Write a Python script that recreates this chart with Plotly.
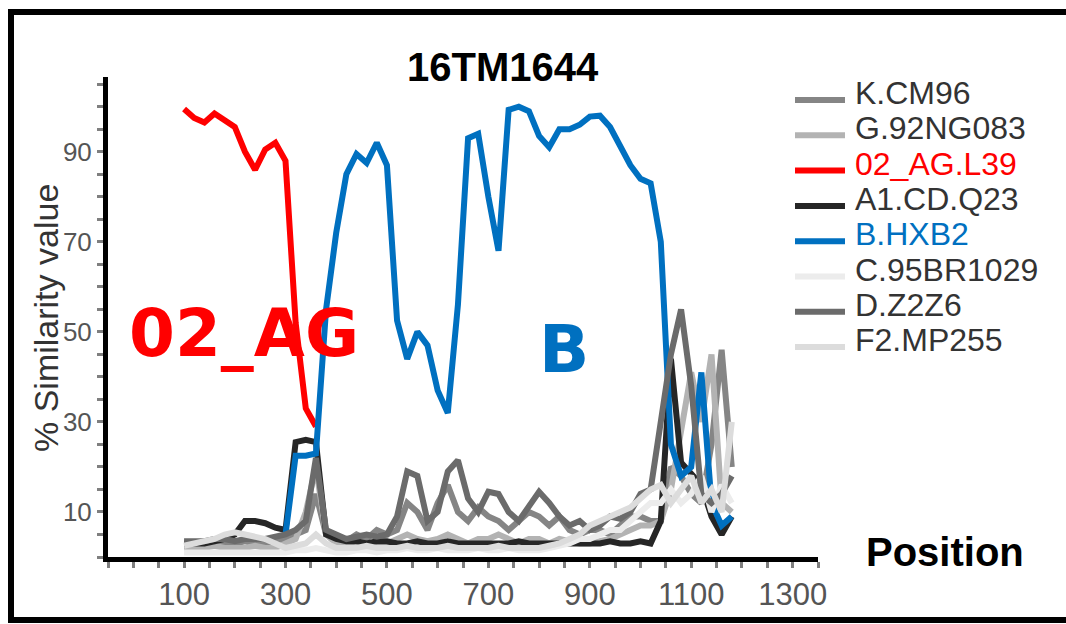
import plotly.graph_objects as go

# Window mid-point positions along the query (bp)
positions = [100, 120, 140, 160, 180, 200, 220, 240, 260, 280,
             300, 320, 340, 360, 380, 400, 420, 440, 460, 480,
             500, 520, 540, 560, 580, 600, 620, 640, 660, 680,
             700, 720, 740, 760, 780, 800, 820, 840, 860, 880,
             900, 920, 940, 960, 980, 1000, 1020, 1040, 1060, 1080,
             1100, 1120, 1140, 1160, 1180]

# % similarity of query 16TM1644 to each reference
sim_K = [2.5, 2.5, 3, 2.5, 3, 3, 3.5, 3, 3, 3.5,
         4, 5, 6, 14, 5, 4, 3.5, 5, 4, 6,
         5, 6, 12, 10, 6, 12, 16, 10, 8, 11,
         9, 8, 6, 8, 10, 9, 7, 9, 6, 5,
         6, 6, 5, 7, 9, 9, 8, 8, 20, 18,
         14, 12, 25, 46, 20]
sim_G = [2, 2, 2, 2.5, 2, 2, 2, 2.5, 2, 2,
         3, 4, 10, 20, 5, 3, 3, 3.5, 3, 3,
         3, 4, 5, 4, 3.5, 4, 5, 4, 3, 4,
         4, 5, 4, 3, 4, 4, 3, 4, 3.5, 3,
         3, 3.5, 4, 5, 6, 7, 7, 8, 15, 28,
         41, 30, 45, 12, 10]
sim_02AG = [99.5, 97.5, 96.5, 98.5, 97, 95.5, 90, 86, 90.5, 92,
            88, 52, 33, 29]
sim_A1 = [3, 3, 3, 3.5, 4, 5, 8, 8, 7.5, 6.5,
          6, 25.5, 26, 25.5, 5, 4, 3.5, 3.5, 3, 3.5,
          3.5, 3, 3, 3.5, 3, 3, 3.5, 3, 3, 3,
          3, 3, 3, 3.5, 3, 3, 3, 3, 3, 3,
          3, 3, 3.5, 3, 3, 3.5, 3, 8, 44, 21,
          18.5, 16, 9, 5, 9]
sim_B = [5, 22.5, 22.5, 23, 55, 72, 85, 89.5, 87.5, 92,
         87, 52.5, 44, 50, 47, 37, 32, 56, 93, 94,
         80, 68, 99.3, 100, 99, 93.5, 91, 95, 95, 96,
         97.8, 98, 95.5, 91.5, 87, 84, 83, 70, 25, 18,
         20, 41, 12, 7, 9]
sim_C = [1, 1, 1, 1, 1, 1, 1, 1, 1, 1,
         1, 1.5, 1.5, 2, 1.5, 1, 1, 1.5, 1.5, 1,
         1.5, 1.5, 2, 1.5, 1.5, 2, 1.5, 1.5, 1.5, 2,
         1.5, 1.5, 2, 1.5, 1.5, 1.5, 2, 2.5, 3, 4,
         4, 5, 6, 6, 8, 10, 12, 12, 15, 12,
         14, 18, 10, 16, 12]
sim_D = [3.5, 3.5, 3.5, 4, 4, 3.5, 4, 4, 4, 4.5,
         5, 6, 8, 22, 6, 5, 4, 4.5, 5, 4.5,
         5, 9, 19, 18, 8, 10, 19, 21.5, 13, 10,
         14.5, 14, 10, 8, 11, 14.5, 12, 9, 7, 8,
         6, 7, 9, 8.5, 10, 14, 15, 30, 45, 55,
         38, 14, 12, 14, 18]
sim_F2 = [2.5, 3, 3.5, 4, 5, 5.5, 5, 4.5, 4, 3,
          2, 2.5, 3, 5, 3, 2, 2, 2, 2.5, 2,
          2, 2, 2.5, 2, 2, 2, 2.5, 2, 2, 2,
          2, 2.5, 2, 2, 2, 2, 2.5, 3, 4, 5,
          7, 8, 9, 10, 11, 13, 15, 16, 12, 15,
          18, 12, 15, 10, 30]

pos_02AG = positions[:len(sim_02AG)]
pos_B = positions[len(positions) - len(sim_B):]

# name, x, y, line colour, legend text colour
series = [
    ("K.CM96", positions, sim_K, "#858585", "#333333"),
    ("G.92NG083", positions, sim_G, "#b3b3b3", "#333333"),
    ("02_AG.L39", pos_02AG, sim_02AG, "#ff0000", "#ff0000"),
    ("A1.CD.Q23", positions, sim_A1, "#262626", "#333333"),
    ("B.HXB2", pos_B, sim_B, "#0070c0", "#0070c0"),
    ("C.95BR1029", positions, sim_C, "#ececec", "#333333"),
    ("D.Z2Z6", positions, sim_D, "#6b6b6b", "#333333"),
    ("F2.MP255", positions, sim_F2, "#dcdcdc", "#333333"),
]

x_ticks = [100, 300, 500, 700, 900, 1100, 1300]
y_ticks = [10, 30, 50, 70, 90]

W, H = 1066, 624
ML, MR, MT, MB = 108, 248, 77, 67
PW, PH = W - ML - MR, H - MT - MB


def fx(px):
    return (px - ML) / PW


def fy(py):
    return (H - MB - py) / PH


FONT = "Liberation Sans, Arial, sans-serif"

fig = go.Figure()
for name, xs, ys, col, _ in series:
    fig.add_trace(go.Scatter(x=xs, y=ys, mode="lines", name=name,
                             line=dict(color=col, width=6),
                             showlegend=False, hoverinfo="skip"))

annotations = [
    dict(text="<b>16TM1644</b>", x=fx(503), y=fy(67), font=dict(size=40, color="#000000", family=FONT)),
    dict(text="% Similarity value", x=fx(46), y=fy(318), textangle=-90,
         font=dict(size=34, color="#333333", family=FONT)),
    dict(text="<b>Position</b>", x=fx(945), y=fy(552), font=dict(size=40, color="#000000", family=FONT)),
    dict(text="<b>02_AG</b>", x=fx(244), y=fy(333),
         font=dict(size=66, color="#ff0000", family="DejaVu Sans, sans-serif")),
    dict(text="<b>B</b>", x=fx(564), y=fy(349),
         font=dict(size=66, color="#0070c0", family="DejaVu Sans, sans-serif")),
]
for a in annotations:
    a.update(xref="paper", yref="paper", showarrow=False, xanchor="center", yanchor="middle")

shapes = [dict(type="rect", xref="paper", yref="paper",
               x0=fx(11), x1=fx(1090), y0=fy(620), y1=fy(12),
               line=dict(color="#000000", width=6), fillcolor="rgba(0,0,0,0)", layer="above")]

# Legend: a short line sample and the reference name for each series
for i, (name, _, _, col, tcol) in enumerate(series):
    ly = 100 + 35.3 * i
    shapes.append(dict(type="line", xref="paper", yref="paper",
                       x0=fx(795), x1=fx(845), y0=fy(ly), y1=fy(ly),
                       line=dict(color=col, width=6)))
    annotations.append(dict(text=name, xref="paper", yref="paper", showarrow=False,
                            x=fx(853), y=fy(ly - 7), xanchor="left", yanchor="middle",
                            font=dict(size=32, color=tcol, family=FONT)))

fig.update_layout(
    width=W, height=H,
    margin=dict(l=ML, r=MR, t=MT, b=MB, pad=0),
    paper_bgcolor="#ffffff", plot_bgcolor="#ffffff",
    showlegend=False,
    annotations=annotations,
    shapes=shapes,
    xaxis=dict(range=[-50, 1350], tickmode="array", tickvals=x_ticks,
               showgrid=False, zeroline=False, showline=True, linecolor="#000000", linewidth=5,
               ticks="outside", ticklen=6, tickwidth=3, tickcolor="#7f7f7f",
               tickfont=dict(size=31, color="#555555", family=FONT),
               minor=dict(ticks="outside", ticklen=6, tickwidth=3, tickcolor="#7f7f7f",
                          dtick=50, tick0=0, showgrid=False)),
    yaxis=dict(range=[0, 106.6], tickmode="array", tickvals=y_ticks,
               showgrid=False, zeroline=False, showline=True, linecolor="#000000", linewidth=5,
               ticks="outside", ticklen=6, tickwidth=3, tickcolor="#7f7f7f",
               tickfont=dict(size=26, color="#555555", family=FONT),
               minor=dict(ticks="outside", ticklen=6, tickwidth=3, tickcolor="#7f7f7f",
                          dtick=5, tick0=0, showgrid=False)),
)

fig.write_html("out.html", config={"displayModeBar": False})
